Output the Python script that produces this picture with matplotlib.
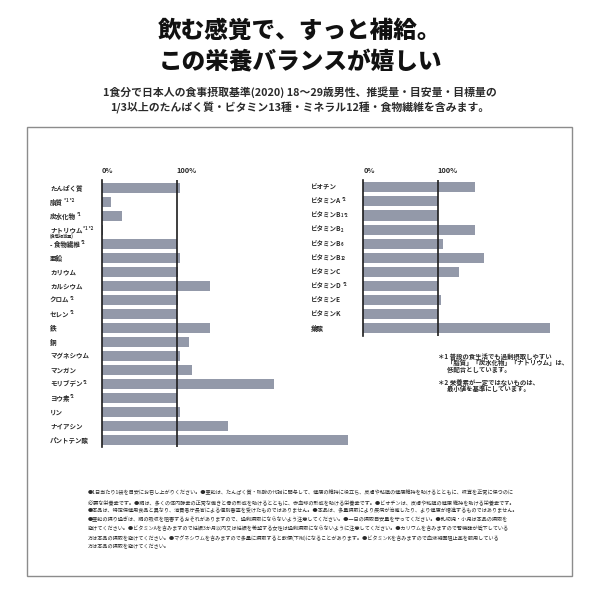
import matplotlib
matplotlib.use("Agg")
import matplotlib.pyplot as plt
from matplotlib.patches import Rectangle

plt.rcParams['font.family'] = ['Noto Sans CJK JP', 'DejaVu Sans']

# ------------------------------------------------------------------ #
# data (percent of 1/3 daily reference intake)
# ------------------------------------------------------------------ #
left_labels = ['たんぱく質', '脂質', '炭水化物', 'ナトリウム', '- 食物繊維', '亜鉛', 'カリウム',
               'カルシウム', 'クロム', 'セレン', '鉄', '銅', 'マグネシウム', 'マンガン',
               'モリブデン', 'ヨウ素', 'リン', 'ナイアシン', 'パントテン酸']
left_sup = ['', '*1 *2', '*1', '*1 *2', '*2', '', '', '', '*2', '*2', '', '', '', '',
            '*2', '*2', '', '', '']
left_values = [104, 12.5, 27, 2, 100, 103.5, 101.5, 144, 101.5, 100, 144, 116.5, 103.5,
               120.5, 230, 100, 104, 168, 328]

right_labels = ['ビオチン', 'ビタミンA', 'ビタミンB', 'ビタミンB', 'ビタミンB', 'ビタミンB',
                'ビタミンC', 'ビタミンD', 'ビタミンE', 'ビタミンK', '葉酸']
right_sub = ['', '', '1', '2', '6', '12', '', '', '', '', '']
right_sup = ['', '*2', '*2', '', '', '', '', '*2', '', '', '']
right_values = [150, 100.5, 100.5, 150, 107.5, 162.5, 129, 100.5, 105, 100.5, 251]

tick_pos = [0, 100]
tick_text = ['0%', '100%']

title_lines = ['飲む感覚で、すっと補給。', 'この栄養バランスが嬉しい']
sub_lines = ['1食分で日本人の食事摂取基準(2020) 18〜29歳男性、推奨量・目安量・目標量の',
             '1/3以上のたんぱく質・ビタミン13種・ミネラル12種・食物繊維を含みます。']
note_lines = ['＊1 普段の食生活でも過剰摂取しやすい',
              '      「脂質」「炭水化物」「ナトリウム」は、',
              '      低配合としています。',
              '',
              '＊2 栄養素が一定ではないものは、',
              '      最小値を基準にしています。']
caution_lines = [
    '●1日当たり1袋を目安にお召し上がりください。●亜鉛は、たんぱく質・核酸の代謝に関与して、健康の維持に役立ち、皮膚や粘膜の健康維持を助けるとともに、味覚を正常に保つのに',
    '必要な栄養素です。●銅は、多くの体内酵素の正常な働きと骨の形成を助けるとともに、赤血球の形成を助ける栄養素です。●ビオチンは、皮膚や粘膜の健康 維持を助ける栄養素です。',
    '●本品は、特定保健用食品と異なり、消費者庁長官による個別審査を受けたものではありません。●本品は、多量摂取により疾病が治癒したり、より健康が増進するものではありません。',
    '●亜鉛の摂り過ぎは、銅の吸収を阻害するおそれがありますので、過剰摂取にならないよう注意してください。●一日の摂取目安量を守ってください。●乳幼児・小児は本品の摂取を',
    '避けてください。●ビタミンAを含みますので妊娠3か月以内又は妊娠を希望する女性は過剰摂取にならないように注意してください。●カリウムを含みますので腎機能が低下している',
    '方は本品の摂取を避けてください。●マグネシウムを含みますので多量に摂取すると軟便(下痢)になることがあります。●ビタミンKを含みますので血液凝固阻止薬を服用している',
    '方は本品の摂取を避けてください。',
]

BAR = '#9399a9'
LINE = '#1e1e1e'
TXT = '#2a2a2a'
W = H = 600.0


def fx(px):
    return px / W


def fy(py):
    return 1 - py / H


fig = plt.figure(figsize=(6, 6), dpi=100)
fig.patch.set_facecolor('white')

# frame round the charts
fig.patches.append(Rectangle((fx(27), fy(576)), fx(572) - fx(27), fy(127) - fy(576),
                             transform=fig.transFigure, fill=False,
                             edgecolor='#8c8c8c', linewidth=1.0))

# headings
fig.text(0.5, fy(31), title_lines[0], ha='center', va='center', fontsize=17,
         weight='heavy', color='#111111')
fig.text(0.5, fy(62), title_lines[1], ha='center', va='center', fontsize=17,
         weight='heavy', color='#111111')
fig.text(0.5, fy(92), sub_lines[0], ha='center', va='center', fontsize=7.8,
         weight='bold', color=TXT)
fig.text(0.5, fy(108), sub_lines[1], ha='center', va='center', fontsize=7.8,
         weight='bold', color=TXT)


def bar_panel(x0, x100, xmax, top, first, step, bottom, label_x, labels, values,
              sups, subs=None):
    n = len(values)
    scale = (x100 - x0) / 100.0
    width_px = xmax * scale
    ax = fig.add_axes([fx(x0), fy(bottom), width_px / W, (bottom - top) / H])
    ax.barh(range(n), values, height=0.72, color=BAR, zorder=2)
    ax.set_xlim(0, xmax)
    ax.set_ylim(n - 1 + (bottom - (first + step * (n - 1))) / step, -(first - top) / step)
    ax.axvline(100, color=LINE, linewidth=1.2, zorder=3)
    for s in ['top', 'right', 'bottom']:
        ax.spines[s].set_visible(False)
    ax.spines['left'].set_color(LINE)
    ax.spines['left'].set_linewidth(1.2)
    ax.spines['left'].set_zorder(3)
    ax.set_yticks([])
    ax.xaxis.tick_top()
    ax.set_xticks(tick_pos, tick_text)
    ax.tick_params(axis='x', length=0, pad=4.5, labelsize=5.3, labelcolor=TXT)
    for t in ax.get_xticklabels():
        t.set_ha('left')
        t.set_weight('bold')
    ax.patch.set_alpha(0)

    lx = (label_x - x0) / width_px
    for i, lab in enumerate(labels):
        t = ax.text(lx, i, lab, transform=ax.get_yaxis_transform(), ha='left',
                    va='center', fontsize=4.7, weight='bold', color=TXT)
        if subs is not None and subs[i]:
            t = ax.annotate(subs[i], xy=(1, 0), xycoords=t, xytext=(-0.5, 0.4),
                            textcoords='offset points', ha='left', va='bottom',
                            fontsize=3.0, weight='bold', color=TXT)
        if sups[i]:
            ax.annotate(sups[i], xy=(1, 1), xycoords=t, xytext=(0.4, 0.4),
                        textcoords='offset points', ha='left', va='top',
                        fontsize=3.1, weight='bold', color=TXT)
        if lab == 'ナトリウム':
            ax.annotate('(食塩相当量)', xy=(0, 0), xycoords=t, xytext=(0, 0.2),
                        textcoords='offset points', ha='left', va='top',
                        fontsize=3.0, weight='bold', color=TXT)
    return ax


bar_panel(102, 176.9, 340, 180, 188, 14.0, 447, 50,
          left_labels, left_values, left_sup)
bar_panel(363.3, 437.7, 270, 180, 187.3, 14.1, 335.7, 311,
          right_labels, right_values, right_sup, right_sub)

# notes on the right
for k, line in enumerate(note_lines):
    if line:
        fig.text(fx(438), fy(356 + 6.6 * k), line, ha='left', va='center',
                 fontsize=4.6, weight='bold', color=TXT)

# cautions at the bottom
for k, line in enumerate(caution_lines):
    fig.text(fx(88), fy(492.7 + 9 * k), line, ha='left', va='center',
             fontsize=3.7, color=TXT)

fig.savefig('out.png', dpi=100, facecolor='white')
